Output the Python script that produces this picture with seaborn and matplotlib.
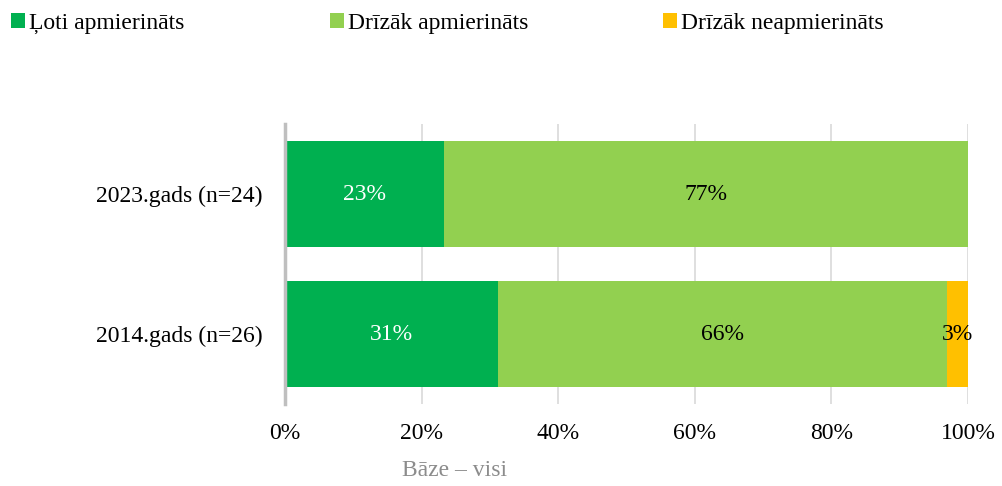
import numpy as np
import pandas as pd
import matplotlib
matplotlib.use("Agg")
import matplotlib.pyplot as plt
import seaborn as sns
from matplotlib.patches import Patch

# Data
years = ["2023.gads (n=24)", "2014.gads (n=26)"]
very_satisfied = [23.3, 31.2]
rather_satisfied = [76.7, 65.7]
rather_unsatisfied = [0.0, 3.1]
series_names = ["Ļoti apmierināts", "Drīzāk apmierināts", "Drīzāk neapmierināts"]
colors = ["#00B050", "#92D050", "#FFC000"]
text_colors = ["white", "black", "black"]

sns.set_style("white")
plt.rcParams["font.family"] = ["Liberation Serif", "DejaVu Serif"]
plt.rcParams["text.color"] = "black"
plt.rcParams["xtick.color"] = "black"
plt.rcParams["ytick.color"] = "black"

df = pd.DataFrame(
    {
        "year": years,
        "s1": very_satisfied,
        "s2": rather_satisfied,
        "s3": rather_unsatisfied,
    }
)
df["c1"] = df["s1"]
df["c2"] = df["s1"] + df["s2"]
df["c3"] = df["c2"] + df["s3"]

fig = plt.figure(figsize=(10.02, 4.86), dpi=100)
ax = fig.add_axes([0.2844, 0.1687, 0.6816, 0.576])

# stacked by drawing cumulative totals largest first
for col, color in zip(["c3", "c2", "c1"], colors[::-1]):
    sns.barplot(data=df, x=col, y="year", color=color, width=0.76,
                saturation=1, linewidth=0, ax=ax, zorder=2)

# segment labels
for i, row in df.iterrows():
    starts = [0, row["c1"], row["c2"]]
    vals = [row["s1"], row["s2"], row["s3"]]
    for start, v, tc in zip(starts, vals, text_colors):
        if v <= 0:
            continue
        ax.text(start + v / 2, i, f"{v:.0f}%", ha="center", va="center",
                color=tc, fontsize=17, zorder=3)

ax.set_xlim(0, 100)
ax.set_ylim(1.5, -0.5)
ax.set_xticks(np.arange(0, 101, 20))
ax.set_xticklabels([f"{t}%" for t in range(0, 101, 20)])
ax.set_xlabel("")
ax.set_ylabel("")
ax.tick_params(axis="x", length=0, pad=14, labelsize=17, labelcolor="black")
ax.tick_params(axis="y", length=0, pad=16, labelsize=17, labelcolor="black")
ax.xaxis.grid(True, color="#D9D9D9", linewidth=1.2, zorder=0)
ax.set_axisbelow(True)
for s in ["top", "right", "bottom"]:
    ax.spines[s].set_visible(False)
ax.spines["left"].set_color("#BFBFBF")
ax.spines["left"].set_linewidth(2.5)

# one legend entry per series, placed like the original
legend_x = [11, 330, 663]
for name, color, lx in zip(series_names, colors, legend_x):
    leg = fig.legend([Patch(facecolor=color, edgecolor="none")], [name],
                     loc="upper left", bbox_to_anchor=(lx / 1002, 0.974),
                     frameon=False, fontsize=17, handlelength=0.6,
                     handleheight=0.6, handletextpad=0.15, borderpad=0,
                     borderaxespad=0, labelcolor="black")

fig.text(455 / 1002, 1 - 470 / 486, "Bāze – visi", ha="center", va="center",
         fontsize=17, color="#8C8C8C")

fig.savefig("out.png", dpi=100)
